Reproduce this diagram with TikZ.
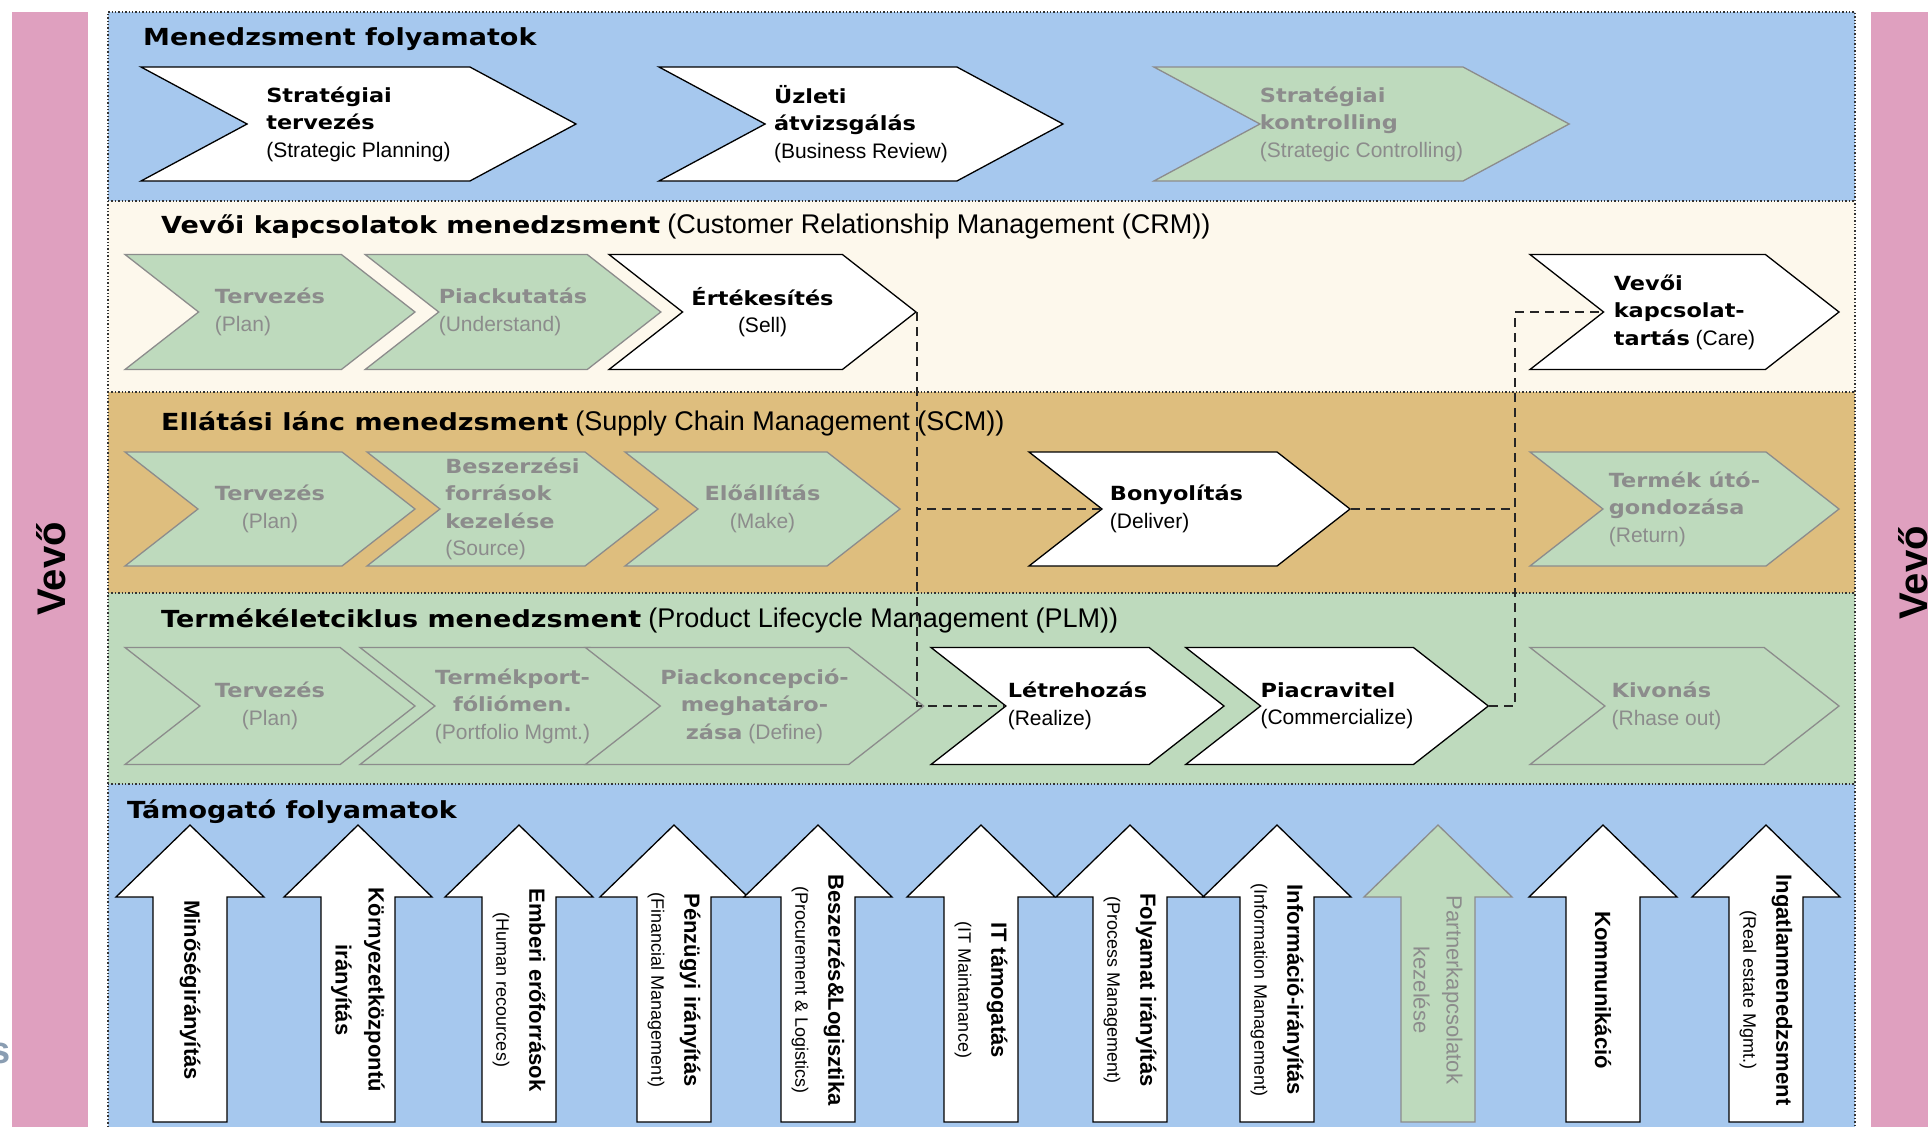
\documentclass[tikz,border=0pt]{standalone}
\usepackage{fontspec}
\setmainfont{Liberation Sans}
\newfontfamily\hdfont[FakeStretch=1.15]{DejaVu Sans}
\usetikzlibrary{shapes.symbols}

\definecolor{mgblue}{HTML}{A6C8EE}
\definecolor{crmcream}{HTML}{FDF8EC}
\definecolor{scmtan}{HTML}{DEBE7E}
\definecolor{plmgreen}{HTML}{BEDABD}
\definecolor{vevopink}{HTML}{DFA0BF}
\definecolor{offgray}{HTML}{8C8C8C}
\definecolor{stray}{HTML}{8A9DB2}

\newcommand\hdbold[1]{{\hdfont\bfseries\fontsize{23.5}{28}\selectfont #1}}
\newcommand\hdreg[1]{{\fontsize{27}{30}\selectfont #1}}
\newcommand\cbold[1]{{\hdfont\bfseries\fontsize{19.5}{27.5}\selectfont #1}}
\newcommand\creg[1]{{\fontsize{21}{27.5}\selectfont #1}}
\newcommand\areg[1]{{\mdseries\fontsize{18}{32}\selectfont #1}}

\begin{document}
\begin{tikzpicture}[x=1pt,y=-1pt,
  chev/.style={shape=signal, signal from=west, signal to=east, inner sep=0pt, line width=1.3, font=\fontsize{21}{27.5}\selectfont},
  chevon/.style={chev, draw=black, fill=white},
  chevoff/.style={chev, draw=offgray, fill=plmgreen, text=offgray},
  wide/.style={signal pointer angle=56.5},
  narrow/.style={signal pointer angle=76},
  hdr/.style={anchor=base west, inner sep=0pt},
  sep/.style={draw=black!80, line width=1.4, dotted},
  link/.style={draw=black!85, line width=2.2, dash pattern=on 9pt off 6pt},
  suparr/.style={draw=black, fill=white, line width=1.3},
  supoff/.style={draw=offgray, fill=plmgreen, line width=1.3},
  suptxt/.style={rotate=-90, align=center, inner sep=0pt, font=\bfseries\fontsize{22}{33}\selectfont}]
  \useasboundingbox (0,0) rectangle (1928,1127);

  % stray text and customer bars
  \node[anchor=base east, text=stray, font=\bfseries\fontsize{38}{38}\selectfont] (stray) at (14,1063) {s};
  \fill[vevopink] (12,12) rectangle (88,1127);
  \fill[vevopink] (1871,12) rectangle (1928,1127);
  \node[rotate=90, font=\bfseries\fontsize{40}{40}\selectfont] (vevoL) at (51,569) {Vevő};
  \node[rotate=90, font=\bfseries\fontsize{40}{40}\selectfont] (vevoR) at (1913,573) {Vevő};

  % bands
  \fill[mgblue] (108,12) rectangle (1855,201);
  \fill[crmcream] (108,201) rectangle (1855,392);
  \fill[scmtan] (108,392) rectangle (1855,593);
  \fill[plmgreen] (108,593) rectangle (1855,784);
  \fill[mgblue] (108,784) rectangle (1855,1127);
  \draw[sep] (108,1127) -- (108,12) -- (1855,12) -- (1855,1127);
  \draw[sep] (108,201) -- (1855,201);
  \draw[sep] (108,392) -- (1855,392);
  \draw[sep] (108,593) -- (1855,593);
  \draw[sep] (108,784) -- (1855,784);

  \node[hdr] (mgmt) at (143,45) {\hdbold{Menedzsment folyamatok}};
  \node[hdr] (crm) at (161,233) {\hdbold{Vevői kapcsolatok menedzsment}\hspace{7pt}\hdreg{(Customer Relationship Management (CRM))}};
  \node[hdr] (scm) at (161,430) {\hdbold{Ellátási lánc menedzsment}\hspace{7pt}\hdreg{(Supply Chain Management (SCM))}};
  \node[hdr] (plm) at (161,627) {\hdbold{Termékéletciklus menedzsment}\hspace{7pt}\hdreg{(Product Lifecycle Management (PLM))}};
  \node[hdr] (sup) at (127,818) {\hdbold{Támogató folyamatok}};

  % management processes
  \node[chevon, wide, minimum width=435, minimum height=114, align=left] (strat) at (358.5,124) {\cbold{Stratégiai}\\\cbold{tervezés}\\\creg{(Strategic Planning)}};
  \node[chevon, wide, minimum width=404, minimum height=114, align=left] (uzleti) at (861,124) {\cbold{Üzleti}\\\cbold{átvizsgálás}\\\creg{(Business Review)}};
  \node[chevoff, wide, minimum width=405, minimum height=114, align=left] (kontr) at (1361.5,124) {\cbold{Stratégiai}\\\cbold{kontrolling}\\\creg{(Strategic Controlling)}};

  % CRM
  \node[chevoff, narrow, minimum width=290, minimum height=115, align=left] (crmterv) at (270,312) {\cbold{Tervezés}\\\creg{(Plan)}};
  \node[chevoff, narrow, minimum width=290, minimum height=115, align=left] (piack) at (513,312) {\cbold{Piackutatás}\\\creg{(Understand)}};
  \node[chevon, narrow, minimum width=307, minimum height=115, align=center] (ert) at (762.5,312) {\cbold{Értékesítés}\\\creg{(Sell)}};
  \node[chevon, narrow, minimum width=309, minimum height=115, align=left] (vevoi) at (1684.5,312) {\cbold{Vevői}\\\cbold{kapcsolat-}\\\cbold{tartás} \creg{(Care)}};

  % SCM
  \node[chevoff, narrow, minimum width=290, minimum height=114, align=center] (scmterv) at (270,509) {\cbold{Tervezés}\\\creg{(Plan)}};
  \node[chevoff, narrow, minimum width=291, minimum height=114, align=left] (besz) at (512.5,509) {\cbold{Beszerzési}\\\cbold{források}\\\cbold{kezelése}\\\creg{(Source)}};
  \node[chevoff, narrow, minimum width=275, minimum height=114, align=center] (eloall) at (762.5,509) {\cbold{Előállítás}\\\creg{(Make)}};
  \node[chevon, narrow, minimum width=321, minimum height=114, align=left] (bony) at (1189.5,509) {\cbold{Bonyolítás}\hspace*{26pt}\\\creg{(Deliver)}};
  \node[chevoff, narrow, minimum width=309, minimum height=114, align=left] (termek) at (1684.5,509) {\cbold{Termék útó-}\\\cbold{gondozása}\\\creg{(Return)}};

  % PLM
  \node[chevoff, narrow, minimum width=290, minimum height=117, align=center] (plmterv) at (270,706) {\cbold{Tervezés}\\\creg{(Plan)}};
  \node[chevoff, narrow, minimum width=291, minimum height=117, align=center] (portf) at (512.5,706) {\cbold{Termékport-}\\\cbold{fóliómen.}\\\creg{(Portfolio Mgmt.)}};
  \node[chevoff, narrow, minimum width=291, minimum height=117, align=center] (piackonc) at (754.5,706) {\cbold{Piackoncepció-}\\\cbold{meghatáro-}\\\cbold{zása} \creg{(Define)}};
  \node[chevon, narrow, minimum width=293, minimum height=117, align=left] (letre) at (1077.5,706) {\cbold{Létrehozás}\\\creg{(Realize)}};
  \node[chevon, narrow, minimum width=290, minimum height=117, align=left] (piacr) at (1337,706) {\cbold{Piacravitel}\\\creg{(Commercialize)}};
  \node[chevoff, narrow, minimum width=309, minimum height=117, align=left] (kivon) at (1684.5,706) {\cbold{Kivonás}\\\creg{(Rhase out)}\hspace*{36pt}};

  % dashed flow
  \coordinate (carejoin) at (1515,312);
  \draw[link] (ert.east) |- (letre.west);
  \draw[link] (bony.west) -- (bony.west -| ert.east);
  \draw[link] (bony.east) -- (bony.east -| carejoin);
  \draw[link] (piacr.east) -| (carejoin) -- (vevoi.west);

  % support processes
  \draw[suparr] (153,1122) -- ++(0,-225) -- ++(-37,0) -- ++(74,-72) -- ++(74,72) -- ++(-37,0) -- ++(0,225) -- cycle;
  \draw[suparr] (321,1122) -- ++(0,-225) -- ++(-37,0) -- ++(74,-72) -- ++(74,72) -- ++(-37,0) -- ++(0,225) -- cycle;
  \draw[suparr] (482,1122) -- ++(0,-225) -- ++(-37,0) -- ++(74,-72) -- ++(74,72) -- ++(-37,0) -- ++(0,225) -- cycle;
  \draw[suparr] (637,1122) -- ++(0,-225) -- ++(-37,0) -- ++(74,-72) -- ++(74,72) -- ++(-37,0) -- ++(0,225) -- cycle;
  \draw[suparr] (781,1122) -- ++(0,-225) -- ++(-37,0) -- ++(74,-72) -- ++(74,72) -- ++(-37,0) -- ++(0,225) -- cycle;
  \draw[suparr] (944,1122) -- ++(0,-225) -- ++(-37,0) -- ++(74,-72) -- ++(74,72) -- ++(-37,0) -- ++(0,225) -- cycle;
  \draw[suparr] (1093,1122) -- ++(0,-225) -- ++(-37,0) -- ++(74,-72) -- ++(74,72) -- ++(-37,0) -- ++(0,225) -- cycle;
  \draw[suparr] (1240,1122) -- ++(0,-225) -- ++(-37,0) -- ++(74,-72) -- ++(74,72) -- ++(-37,0) -- ++(0,225) -- cycle;
  \draw[supoff] (1401,1122) -- ++(0,-225) -- ++(-37,0) -- ++(74,-72) -- ++(74,72) -- ++(-37,0) -- ++(0,225) -- cycle;
  \draw[suparr] (1566,1122) -- ++(0,-225) -- ++(-37,0) -- ++(74,-72) -- ++(74,72) -- ++(-37,0) -- ++(0,225) -- cycle;
  \draw[suparr] (1729,1122) -- ++(0,-225) -- ++(-37,0) -- ++(74,-72) -- ++(74,72) -- ++(-37,0) -- ++(0,225) -- cycle;

  \node[suptxt] (minoseg) at (190,990) {Minőségirányítás};
  \node[suptxt] (kornyezet) at (358,990) {Környezetközpontú\\irányítás};
  \node[suptxt] (ember) at (519,990) {Emberi erőforrások\\\areg{(Human recources)}};
  \node[suptxt] (penz) at (674,990) {Pénzügyi irányítás\\\areg{(Financial Management)}};
  \node[suptxt] (logiszt) at (818,990) {Beszerzés\&Logisztika\\\areg{(Procurement \& Logistics)}};
  \node[suptxt] (ittam) at (981,990) {IT támogatás\\\areg{(IT Maintanance)}};
  \node[suptxt] (folyamat) at (1130,990) {Folyamat irányítás\\\areg{(Process Management)}};
  \node[suptxt] (info) at (1277,990) {Információ-irányítás\\\areg{(Information Management)}};
  \node[suptxt, text=offgray, font=\mdseries\fontsize{22}{33}\selectfont] (partner) at (1438,990) {Partnerkapcsolatok\\kezelése};
  \node[suptxt] (komm) at (1603,990) {Kommunikáció};
  \node[suptxt] (ingatlan) at (1766,990) {Ingatlanmenedzsment\\\areg{(Real estate Mgmt.)}};
\end{tikzpicture}
\end{document}
